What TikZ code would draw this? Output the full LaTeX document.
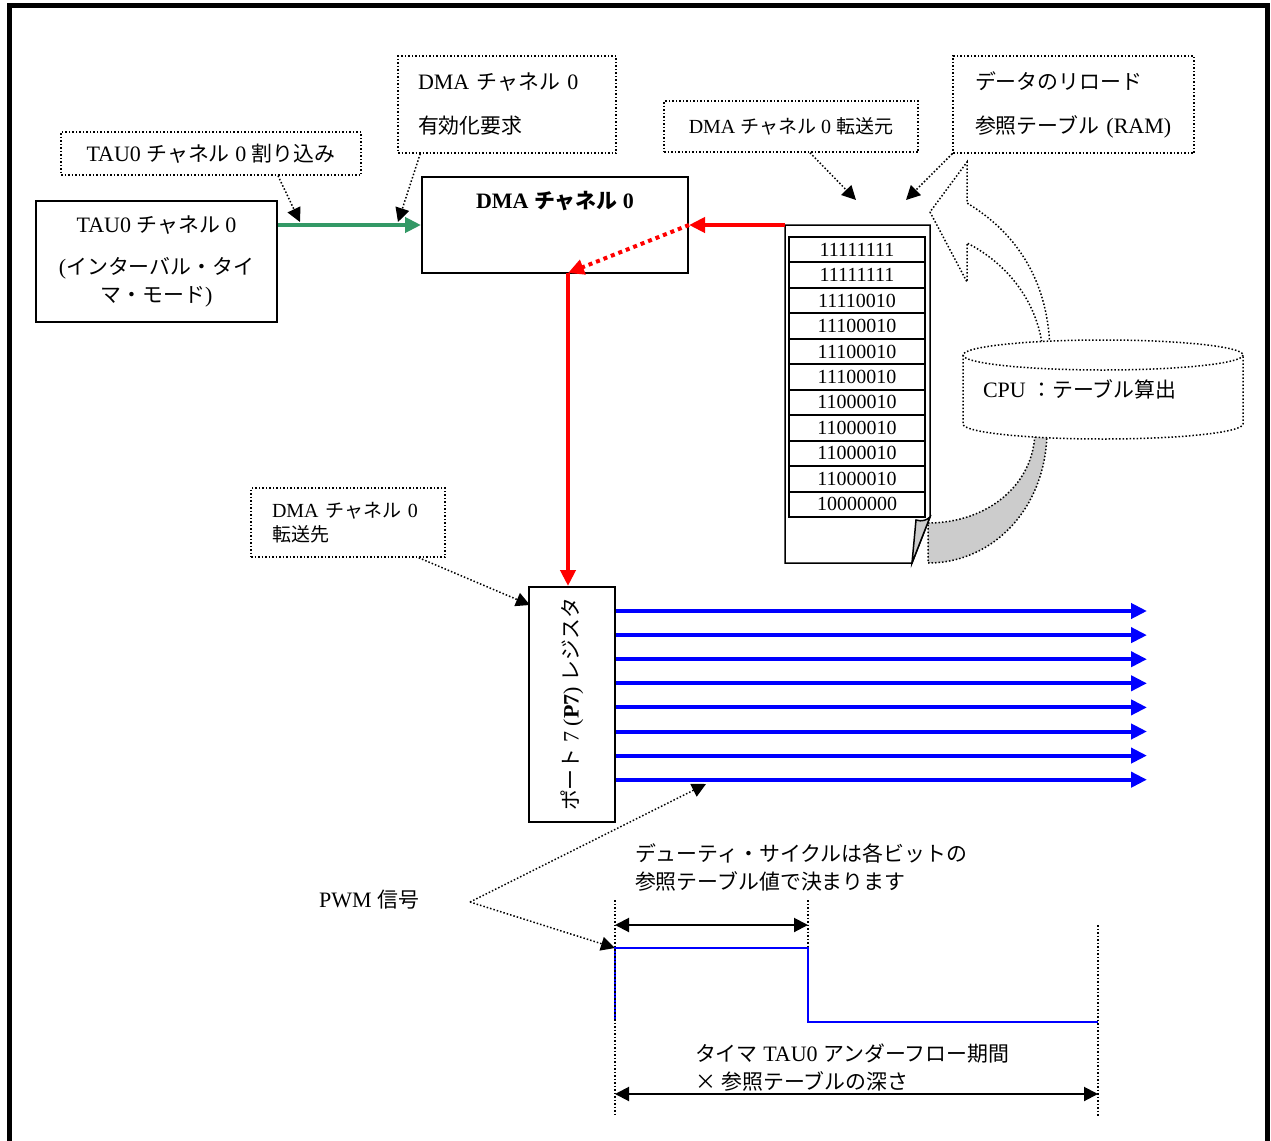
\documentclass[tikz,border=0pt]{standalone}
\usepackage{fontspec}
\setmainfont{Liberation Serif}
\newfontfamily\jpfont[Scale=0.95]{Noto Sans CJK JP}
\newcommand{\ja}[1]{{\jpfont #1}}
\usetikzlibrary{arrows.meta,positioning}
\definecolor{flowgreen}{RGB}{51,153,102}
\definecolor{foldgray}{RGB}{204,204,204}

\begin{document}
\begin{tikzpicture}[x=0.5pt,y=-0.5pt,>={Triangle[length=7pt,width=7pt]},
  font=\fontsize{11}{14}\selectfont]
  \tikzstyle{box}=[draw,line width=1pt]
  \tikzstyle{note}=[draw,densely dotted,line width=0.75pt]
  \tikzstyle{pointer}=[->,densely dotted,line width=0.75pt]
  \tikzstyle{flow}=[-{Triangle[length=8pt,width=7.5pt]},line width=2pt]
  \tikzstyle{guide}=[densely dotted,line width=0.75pt]

  \useasboundingbox (0,0) rectangle (1271,1141);
  \draw[line width=2.5pt] (9,1141) -- (9,5) -- (1267,5) -- (1267,1141);

  % timer and DMA
  \node[box,minimum width=120.5pt,minimum height=60.5pt,align=center] (tau) at (156.5,261.5)
    {TAU0 \ja{チャネル} 0\\[7pt](\ja{インターバル・タイ}\\\ja{マ・モード})};
  \node[box,minimum width=133pt,minimum height=48pt] (dma) at (555,225) {};
  \node[below=4pt of dma.north,font=\fontsize{11}{14}\selectfont\bfseries] (dmatitle) {DMA \ja{チャネル} 0};

  % callouts
  \node[note,minimum width=150pt,minimum height=21.5pt] (irq) at (211,153.5) {TAU0 \ja{チャネル} 0 \ja{割り込み}};
  \node[note,text width=89pt,inner xsep=10pt,minimum height=48.5pt,align=left] (req) at (507,104.5)
    {DMA~\ja{チャネル}~0\\[8pt]\ja{有効化要求}};
  \node[note,minimum width=127pt,minimum height=25.5pt,font=\fontsize{10}{12}\selectfont] (src) at (791,126.5)
    {DMA \ja{チャネル} 0 \ja{転送元}};
  \node[note,text width=98.5pt,inner xsep=11pt,minimum height=48.5pt,align=left] (ram) at (1073.5,104.5)
    {\ja{データのリロード}\\[8pt]\ja{参照テーブル}~(RAM)};
  \node[note,text width=76pt,inner xsep=10.5pt,minimum height=34.5pt,align=left,font=\fontsize{10}{12}\selectfont] (dst) at (348,522.5)
    {DMA~\ja{チャネル}~0\\\ja{転送先}};

  % port register
  \node[box,rotate=90,minimum width=117.5pt,minimum height=43pt] (port) at (572,704.5)
    {\ja{ポート} 7 (\textbf{P7}) \ja{レジスタ}};

  % curved arrow behind the table
  \draw[guide,fill=foldgray] (928,523) .. controls (987,523) and (1035,485) .. (1035,430)
    -- (1047,430) .. controls (1047,507) and (994,563) .. (928,563) -- cycle;
  \draw[guide,fill=white] (1043,352) .. controls (1039,305) and (1010,265) .. (967,243)
    -- (967,282) -- (930,212) -- (967,162) -- (967,203)
    .. controls (1020,235) and (1049,285) .. (1050,352) -- cycle;

  % reference table
  \coordinate (page) at (785,225);
  \draw[line width=0.75pt,fill=white] (page) -- (930,225) -- (930,517) -- (912,563) -- (785,563) -- cycle;
  \draw[line width=0.75pt,fill=foldgray] (916,520) .. controls (922,522) and (927,520) .. (930,517) -- (912,563) -- cycle;
  \foreach \v [count=\i] in {11111111,11111111,11110010,11100010,11100010,11100010,11000010,11000010,11000010,11000010,10000000}
    \node[box,minimum width=68pt,minimum height=12.73pt,inner sep=0pt,font=\fontsize{10}{11}\selectfont]
      (row\i) at (857,{237+25.45*(\i-0.5)}) {\v};

  % CPU
  \draw[guide,fill=white] (963,355) -- (963,424) arc[start angle=180,end angle=0,x radius=140,y radius=15] -- (1243,355);
  \draw[guide,fill=white] (1103,355) ellipse[x radius=140,y radius=15];
  \node[anchor=west] (cpu) at (976,389) {CPU \ja{：テーブル算出}};

  % data flow
  \coordinate (dmaout) at (568,273);
  \draw[flow,flowgreen] (tau.east |- dma.west) -- (dma.west);
  \draw[flow,red] (page) -- (dma.east);
  \draw[flow,red,dotted] (dma.east) -- (dmaout);
  \draw[flow,red] (dmaout) -- (dmaout |- port.east);
  \foreach \i in {0,...,7}
    \coordinate (bit\i) at (1147,{611+24.1*\i});
  \foreach \i in {0,...,7}
    \draw[flow,blue] (port.south |- bit\i) -- (bit\i);

  % pointers
  \coordinate (irqtip) at (300,222);
  \coordinate (reqtip) at (398,222);
  \coordinate (srctip) at (856,200);
  \coordinate (ramtip) at (906,200);
  \coordinate (dsttip) at (530,605);
  \draw[pointer] ([xshift=33.5pt]irq.south) -- (irqtip);
  \draw[pointer] ([xshift=11.5pt]req.south west) -- (reqtip);
  \draw[pointer] ([xshift=9.5pt]src.south) -- (srctip);
  \draw[pointer] (ram.south west) -- (ramtip);
  \draw[pointer] ([xshift=-13.5pt]dst.south east) -- (dsttip);

  % PWM waveform
  \node (pwm) at (369,900) {PWM \ja{信号}};
  \coordinate (fork) at (470,902);
  \coordinate (pwmtip) at (706,784);
  \coordinate (st) at (615,1020);
  \coordinate (hi0) at (615,948);
  \coordinate (hi1) at (808,948);
  \coordinate (lo1) at (808,1022);
  \coordinate (lo2) at (1098,1022);
  \draw[pointer] (fork) -- (pwmtip);
  \draw[pointer] (fork) -- (hi0);
  \draw[blue,line width=1pt] (st) -- (hi0) -- (hi1) -- (lo1) -- (lo2);
  \draw[guide] (615,900) -- (615,1117);
  \draw[guide] (808,900) -- (hi1);
  \draw[guide] (1098,925) -- (1098,1117);
  \draw[<->,line width=1pt] (615,925) -- (808,925);
  \draw[<->,line width=1pt] (615,1094) -- (1098,1094);
  \node[anchor=west,align=left] (duty) at (628,867.5)
    {\ja{デューティ・サイクルは各ビットの}\\\ja{参照テーブル値で決まります}};
  \node[anchor=west,align=left] (period) at (688,1067.5)
    {\ja{タイマ} TAU0 \ja{アンダーフロー期間}\\\ja{×} \ja{参照テーブルの深さ}};
\end{tikzpicture}
\end{document}
